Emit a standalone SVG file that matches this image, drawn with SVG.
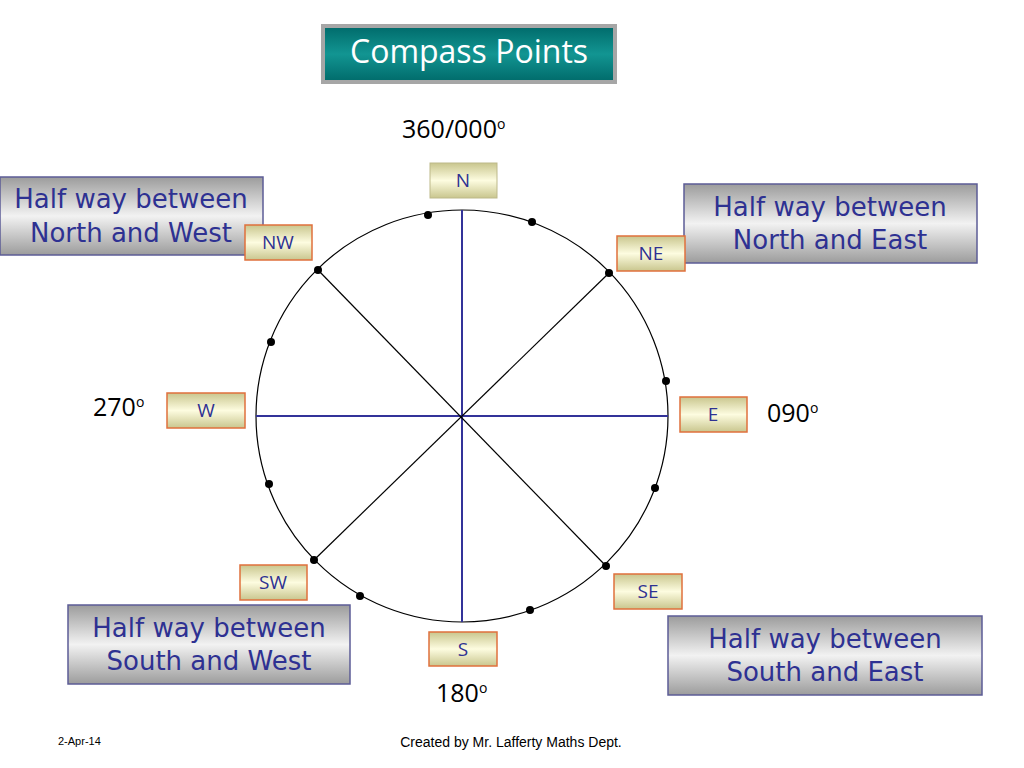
<svg xmlns="http://www.w3.org/2000/svg" width="1024" height="768" viewBox="0 0 1024 768">
<defs>
<linearGradient id="gGray" x1="0" y1="0" x2="0" y2="1">
<stop offset="0" stop-color="#9c9c9c"/>
<stop offset="0.5" stop-color="#f2f2f2"/>
<stop offset="1" stop-color="#9c9c9c"/>
</linearGradient>
<linearGradient id="gCream" x1="0" y1="0" x2="0" y2="1">
<stop offset="0" stop-color="#c9c68e"/>
<stop offset="0.5" stop-color="#fdfce0"/>
<stop offset="1" stop-color="#c9c68e"/>
</linearGradient>
<linearGradient id="gTeal" x1="0" y1="0" x2="0" y2="1">
<stop offset="0" stop-color="#006a6a"/>
<stop offset="0.5" stop-color="#129592"/>
<stop offset="1" stop-color="#006a6a"/>
</linearGradient>
<style>
.lbl{fill:url(#gGray);stroke:#5c5c96;stroke-width:1.5}
.lt{font-family:"DejaVu Sans","Open Sans",sans-serif;font-size:26px;fill:#2e3192;text-anchor:middle}
.pt{fill:url(#gCream);stroke:#e0703c;stroke-width:1.5}
.ptn{fill:url(#gCream);stroke:#bdb98a;stroke-width:1}
.pl{font-family:"Open Sans","DejaVu Sans",sans-serif;font-size:19px;fill:#2e3192;text-anchor:middle}
.deg{font-family:"Open Sans","DejaVu Sans",sans-serif;font-size:25px;fill:#000}
.sup{font-size:14px}
.dot{fill:#000}
.foot{font-family:"Liberation Sans",Arial,sans-serif;fill:#000}
</style>
</defs>
<rect width="1024" height="768" fill="#ffffff"/>

<g id="title">
<rect x="323" y="26" width="292" height="56" fill="url(#gTeal)" stroke="#a6a6a6" stroke-width="4"/>
<text x="469" y="63" font-family="'Open Sans','DejaVu Sans',sans-serif" font-size="32" fill="#ffffff" text-anchor="middle">Compass Points</text>
</g>

<g id="connectors">
<circle cx="462" cy="416" r="206" fill="none" stroke="#000" stroke-width="1.2"/>
<line x1="462" y1="210" x2="462" y2="622" stroke="#333399" stroke-width="2"/>
<line x1="256" y1="416" x2="668" y2="416" stroke="#333399" stroke-width="2"/>
<line x1="318" y1="270" x2="606" y2="566" stroke="#000" stroke-width="1.2"/>
<line x1="609" y1="273" x2="314" y2="560" stroke="#000" stroke-width="1.2"/>
<g>
<circle class="dot" cx="428" cy="215" r="4"/>
<circle class="dot" cx="532" cy="222" r="4"/>
<circle class="dot" cx="318" cy="270" r="4"/>
<circle class="dot" cx="609" cy="273" r="4"/>
<circle class="dot" cx="271" cy="342" r="4"/>
<circle class="dot" cx="666" cy="381" r="4"/>
<circle class="dot" cx="655" cy="488" r="4"/>
<circle class="dot" cx="269" cy="484" r="4"/>
<circle class="dot" cx="314" cy="560" r="4"/>
<circle class="dot" cx="606" cy="566" r="4"/>
<circle class="dot" cx="360" cy="596" r="4"/>
<circle class="dot" cx="530" cy="610" r="4"/>
</g>
</g>

<g id="deg-north"><text class="deg" x="402" y="138">360/000<tspan class="sup" dy="-9">o</tspan></text></g>
<g id="deg-west"><text class="deg" x="93" y="416">270<tspan class="sup" dy="-9">o</tspan></text></g>
<g id="deg-east"><text class="deg" x="767" y="422">090<tspan class="sup" dy="-9">o</tspan></text></g>
<g id="deg-south"><text class="deg" x="436" y="702">180<tspan class="sup" dy="-9">o</tspan></text></g>

<g id="label-nw">
<rect class="lbl" x="0" y="177" width="263" height="78"/>
<text class="lt" x="131" y="208">Half way between</text>
<text class="lt" x="131" y="242">North and West</text>
</g>
<g id="label-ne">
<rect class="lbl" x="684" y="184" width="293" height="79"/>
<text class="lt" x="830" y="216">Half way between</text>
<text class="lt" x="830" y="249">North and East</text>
</g>
<g id="label-sw">
<rect class="lbl" x="68" y="605" width="282" height="79"/>
<text class="lt" x="209" y="637">Half way between</text>
<text class="lt" x="209" y="670">South and West</text>
</g>
<g id="label-se">
<rect class="lbl" x="668" y="616" width="314" height="79"/>
<text class="lt" x="825" y="648">Half way between</text>
<text class="lt" x="825" y="681">South and East</text>
</g>

<g id="pt-n"><rect class="ptn" x="430" y="163" width="67" height="35"/><text class="pl" x="463" y="187">N</text></g>
<g id="pt-nw"><rect class="pt" x="245" y="225" width="67" height="35"/><text class="pl" x="278" y="249">NW</text></g>
<g id="pt-ne"><rect class="pt" x="617" y="236" width="68" height="35"/><text class="pl" x="651" y="260">NE</text></g>
<g id="pt-w"><rect class="pt" x="167" y="393" width="78" height="35"/><text class="pl" x="206" y="417">W</text></g>
<g id="pt-e"><rect class="pt" x="680" y="397" width="67" height="35"/><text class="pl" x="713" y="421">E</text></g>
<g id="pt-sw"><rect class="pt" x="240" y="565" width="67" height="35"/><text class="pl" x="273" y="589">SW</text></g>
<g id="pt-se"><rect class="pt" x="614" y="574" width="68" height="35"/><text class="pl" x="648" y="598">SE</text></g>
<g id="pt-s"><rect class="pt" x="429" y="632" width="68" height="34"/><text class="pl" x="463" y="656">S</text></g>

<g id="footer">
<text class="foot" x="58" y="745" font-size="11">2-Apr-14</text>
<text class="foot" x="511" y="747" font-size="14" text-anchor="middle">Created by Mr. Lafferty Maths Dept.</text>
</g>
</svg>
